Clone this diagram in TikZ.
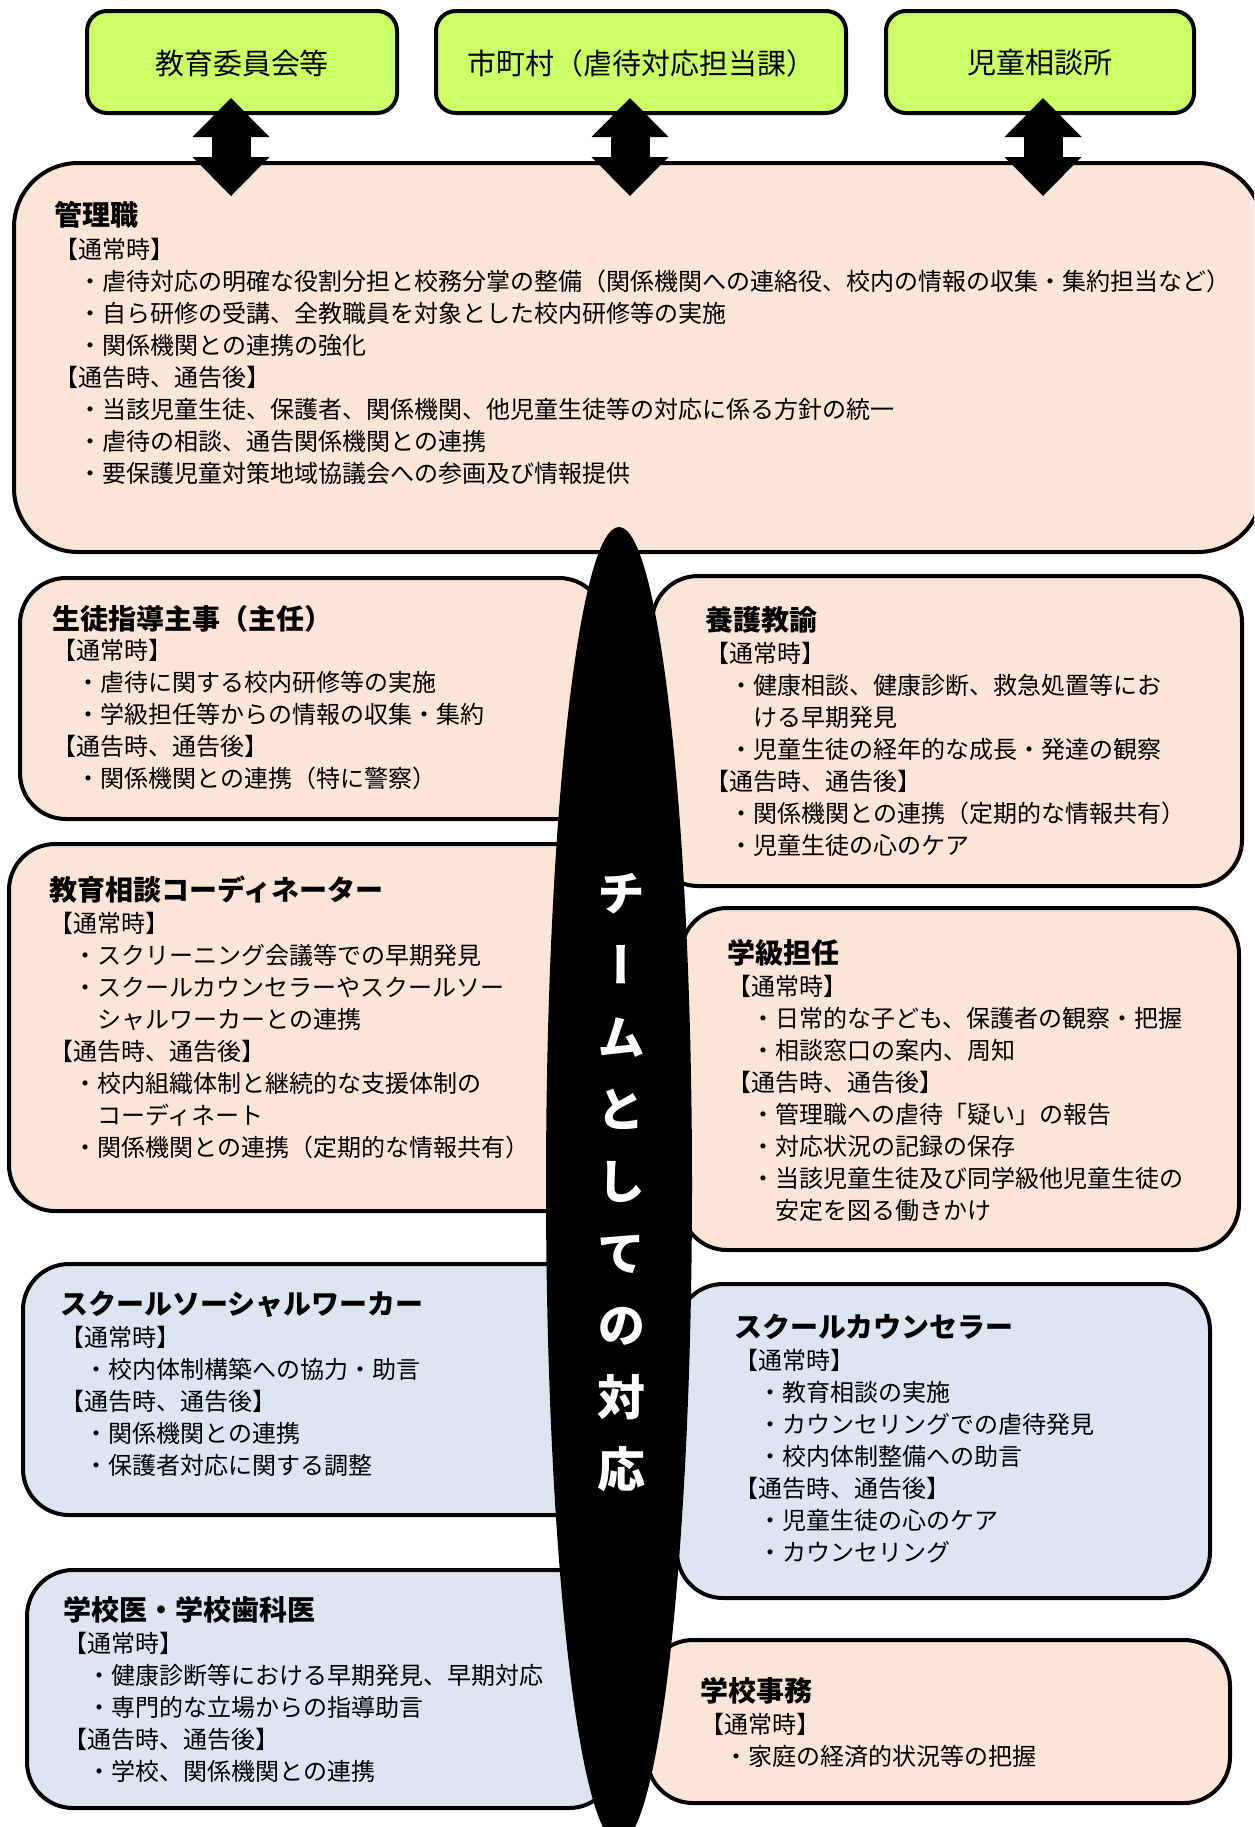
\documentclass[tikz,border=0pt]{standalone}
\usepackage{fontspec}
\usepackage{graphicx}
\setmainfont{Noto Sans CJK JP}
\newfontfamily\vertfont[RawFeature=+vert]{Noto Sans CJK JP}
\usetikzlibrary{arrows.meta,fit,shapes.geometric}
\definecolor{peach}{HTML}{FBE5D6}
\definecolor{lblue}{HTML}{DCE6F2}
\definecolor{lgreen}{HTML}{CCFF66}
\tikzset{
  box/.style={draw=black, line width=2pt, inner sep=0pt},
  midbox/.style={box, rounded corners=23pt},
  topbox/.style={box, rounded corners=10pt, fill=lgreen},
  toptext/.style={inner sep=0pt, font=\fontsize{14.5pt}{17pt}\selectfont},
  titletext/.style={anchor=base west, inner sep=0pt, font=\fontsize{14pt}{17pt}\selectfont\bfseries},
  bodytext/.style={anchor=base west, inner sep=0pt, font=\fontsize{12pt}{16pt}\selectfont},
  bigarrow/.style={line width=19.5pt,
    {Triangle[width=38.5pt,length=19.5pt,line width=0pt]}-{Triangle[width=38.5pt,length=19.5pt,line width=0pt]}},
  teamtext/.style={anchor=base, inner sep=0pt, text=white, font=\vertfont\fontsize{24pt}{36pt}\selectfont\bfseries},
}
\newcommand\rolebox[6]{%
  \node[titletext] (#1t) at (#2,#3) {#4};
  \node[bodytext] (#1b) at (#2,#5) {\parbox[t]{620pt}{#6}};
}
\begin{document}
\begin{tikzpicture}[x=0.5pt,y=-0.5pt]
\useasboundingbox (0,0) rectangle (1254,1827);
\fill[white] (0,0) rectangle (1254,1827);
\clip (0,0) rectangle (1254,1827);

% top boxes
\node[topbox, fit={(87,11) (397,113)}] (t1) {};
\node[topbox, fit={(436,11) (846,113)}] (t2) {};
\node[topbox, fit={(886,11) (1194,113)}] (t3) {};
\node[toptext] (t1l) at (242,63) {教育委員会等};
\node[toptext] (t2l) at (641,63) {市町村（虐待対応担当課）};
\node[toptext] (t3l) at (1040,63) {児童相談所};

% role boxes
\node[box, rounded corners=32pt, fill=peach, fit={(14,163) (1262,552)}] (b1) {};
\node[midbox, fill=peach, fit={(20,578) (605,819)}] (b2) {};
\node[midbox, fill=peach, fit={(652,576) (1242,886)}] (b3) {};
\node[midbox, fill=peach, fit={(9,844) (605,1211)}] (b4) {};
\node[midbox, fill=peach, fit={(681,908) (1239,1250)}] (b5) {};
\node[midbox, fill=lblue, fit={(23,1264) (605,1515)}] (b6) {};
\node[midbox, fill=lblue, fit={(677,1284) (1210,1598)}] (b7) {};
\node[midbox, fill=lblue, fit={(27,1570) (615,1808)}] (b8) {};
\node[midbox, fill=peach, fit={(647,1640) (1230,1803)}] (b9) {};

% texts
\rolebox{r1}{54}{225}{管理職}{258}{【通常時】\\
　・虐待対応の明確な役割分担と校務分掌の整備（関係機関への連絡役、校内の情報の収集・集約担当など）\\
　・自ら研修の受講、全教職員を対象とした校内研修等の実施\\
　・関係機関との連携の強化\\
【通告時、通告後】\\
　・当該児童生徒、保護者、関係機関、他児童生徒等の対応に係る方針の統一\\
　・虐待の相談、通告関係機関との連携\\
　・要保護児童対策地域協議会への参画及び情報提供}

\rolebox{r2}{52}{629}{生徒指導主事（主任）}{659}{【通常時】\\
　・虐待に関する校内研修等の実施\\
　・学級担任等からの情報の収集・集約\\
【通告時、通告後】\\
　・関係機関との連携（特に警察）}

\rolebox{r3}{705}{630}{養護教諭}{662}{【通常時】\\
　・健康相談、健康診断、救急処置等にお\\
　　ける早期発見\\
　・児童生徒の経年的な成長・発達の観察\\
【通告時、通告後】\\
　・関係機関との連携（定期的な情報共有）\\
　・児童生徒の心のケア}

\rolebox{r4}{49}{900}{教育相談コーディネーター}{932}{【通常時】\\
　・スクリーニング会議等での早期発見\\
　・スクールカウンセラーやスクールソー\\
　　シャルワーカーとの連携\\
【通告時、通告後】\\
　・校内組織体制と継続的な支援体制の\\
　　コーディネート\\
　・関係機関との連携（定期的な情報共有）}

\rolebox{r5}{727}{963}{学級担任}{995}{【通常時】\\
　・日常的な子ども、保護者の観察・把握\\
　・相談窓口の案内、周知\\
【通告時、通告後】\\
　・管理職への虐待「疑い」の報告\\
　・対応状況の記録の保存\\
　・当該児童生徒及び同学級他児童生徒の\\
　　安定を図る働きかけ}

\rolebox{r6}{60}{1314}{スクールソーシャルワーカー}{1346}{【通常時】\\
　・校内体制構築への協力・助言\\
【通告時、通告後】\\
　・関係機関との連携\\
　・保護者対応に関する調整}

\rolebox{r7}{734}{1337}{スクールカウンセラー}{1369}{【通常時】\\
　・教育相談の実施\\
　・カウンセリングでの虐待発見\\
　・校内体制整備への助言\\
【通告時、通告後】\\
　・児童生徒の心のケア\\
　・カウンセリング}

\rolebox{r8}{63}{1620}{学校医・学校歯科医}{1652}{【通常時】\\
　・健康診断等における早期発見、早期対応\\
　・専門的な立場からの指導助言\\
【通告時、通告後】\\
　・学校、関係機関との連携}

\rolebox{r9}{700}{1701}{学校事務}{1733}{【通常時】\\
　・家庭の経済的状況等の把握}

% double arrows between top boxes and 管理職
\coordinate (a1t) at (231,98);  \coordinate (a1b) at (231,196);
\coordinate (a2t) at (630,98);  \coordinate (a2b) at (630,196);
\coordinate (a3t) at (1043,98); \coordinate (a3b) at (1043,196);
\draw[bigarrow] (a1t) -- (a1b);
\draw[bigarrow] (a2t) -- (a2b);
\draw[bigarrow] (a3t) -- (a3b);

% central ellipse
\node[ellipse, fill=black, inner sep=0pt, minimum width=73pt, minimum height=658pt] (team) at (619,1185) {};
\node[teamtext] (teamlabel) at (621,911) {\parbox[t]{60pt}{\centering チ\\ー\\ム\\と\\し\\て\\の\\対\\応}};
\end{tikzpicture}
\end{document}
